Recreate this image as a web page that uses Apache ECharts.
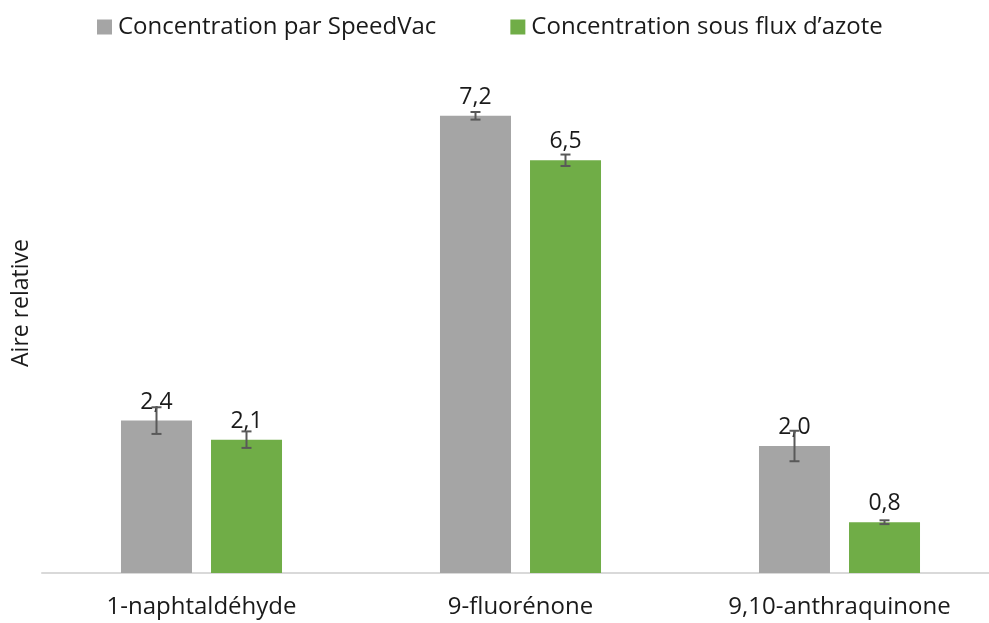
<!DOCTYPE html>
<html>
<head>
<meta charset="utf-8">
<script src="https://cdn.jsdelivr.net/npm/echarts@6/dist/echarts.min.js"></script>
<style>
  html, body { margin: 0; padding: 0; background: #ffffff; }
  #chart { width: 989px; height: 623px; }
</style>
</head>
<body>
<div id="chart"></div>
<script>
// Categories and series values
const categories = ['1-naphtaldéhyde', '9-fluorénone', '9,10-anthraquinone'];
const seriesNames = ['Concentration par SpeedVac', 'Concentration sous flux d\u2019azote'];
const speedVac = [2.4, 7.2, 2.0];
const speedVacErr = [0.21, 0.06, 0.24];
const azote = [2.1, 6.5, 0.8];
const azoteErr = [0.13, 0.09, 0.03];
const yTitle = 'Aire relative';

const FONT = '"Open Sans", sans-serif';
const BAR_W = 71;
const BAR_GAP_PX = 19;

function fmt(v) {
  return v.toFixed(1).replace('.', ',');
}

// Error bar series drawn as a custom series, shifted onto its bar in the group
function errorSeries(name, values, errs, side) {
  const data = values.map((v, i) => [i, v, errs[i]]);
  return {
    type: 'custom',
    name: name + ' err',
    data: data,
    z: 10,
    silent: true,
    encode: { x: 0, y: 1 },
    renderItem: function (params, api) {
      const idx = api.value(0);
      const val = api.value(1);
      const err = api.value(2);
      const shift = side * (BAR_W + BAR_GAP_PX) / 2;
      const hi = api.coord([idx, val + err]);
      const lo = api.coord([idx, val - err]);
      const x = hi[0] + shift;
      const cap = 5;
      const style = { stroke: '#595959', lineWidth: 2, fill: null };
      return {
        type: 'group',
        children: [
          { type: 'line', shape: { x1: x, y1: hi[1], x2: x, y2: lo[1] }, style: style },
          { type: 'line', shape: { x1: x - cap, y1: hi[1], x2: x + cap, y2: hi[1] }, style: style },
          { type: 'line', shape: { x1: x - cap, y1: lo[1], x2: x + cap, y2: lo[1] }, style: style }
        ]
      };
    }
  };
}

const chart = echarts.init(document.getElementById('chart'), null, { renderer: 'canvas' });

const labelStyle = {
  show: true,
  position: 'top',
  distance: 7,
  color: '#1a1a1a',
  fontFamily: FONT,
  fontSize: 23,
  formatter: p => fmt(p.value)
};

chart.setOption({
  animation: false,
  textStyle: { fontFamily: FONT },
  legend: {
    top: 10,
    left: 92,
    itemWidth: 15,
    itemHeight: 15,
    itemGap: 74,
    icon: 'rect',
    textStyle: { fontFamily: FONT, fontSize: 24, color: '#1a1a1a', padding: [0, 0, 0, 1] },
    data: seriesNames
  },
  graphic: [{
    type: 'text',
    x: 21,
    y: 303,
    rotation: Math.PI / 2,
    style: {
      text: yTitle, fontFamily: FONT, fontSize: 23, fill: '#1a1a1a',
      align: 'center', verticalAlign: 'middle'
    },
    silent: true
  }],
  grid: { left: 42, top: 65, width: 957, height: 508, containLabel: false, outerBoundsMode: 'none' },
  xAxis: {
    type: 'category',
    data: categories,
    axisLine: { lineStyle: { color: '#d9d9d9', width: 2 } },
    axisTick: { show: false },
    axisLabel: { fontFamily: FONT, fontSize: 24, color: '#1a1a1a', margin: 22 }
  },
  yAxis: {
    type: 'value',
    min: 0,
    max: 8,
    axisLine: { show: false },
    axisTick: { show: false },
    axisLabel: { show: false },
    splitLine: { show: false }
  },
  series: [
    {
      type: 'bar',
      name: seriesNames[0],
      data: speedVac,
      barWidth: BAR_W,
      barGap: (BAR_GAP_PX / BAR_W * 100).toFixed(1) + '%',
      itemStyle: { color: '#a5a5a5' },
      label: labelStyle
    },
    {
      type: 'bar',
      name: seriesNames[1],
      data: azote,
      barWidth: BAR_W,
      itemStyle: { color: '#70ad47' },
      label: labelStyle
    },
    errorSeries(seriesNames[0], speedVac, speedVacErr, -1),
    errorSeries(seriesNames[1], azote, azoteErr, 1)
  ]
});
</script>
</body>
</html>
